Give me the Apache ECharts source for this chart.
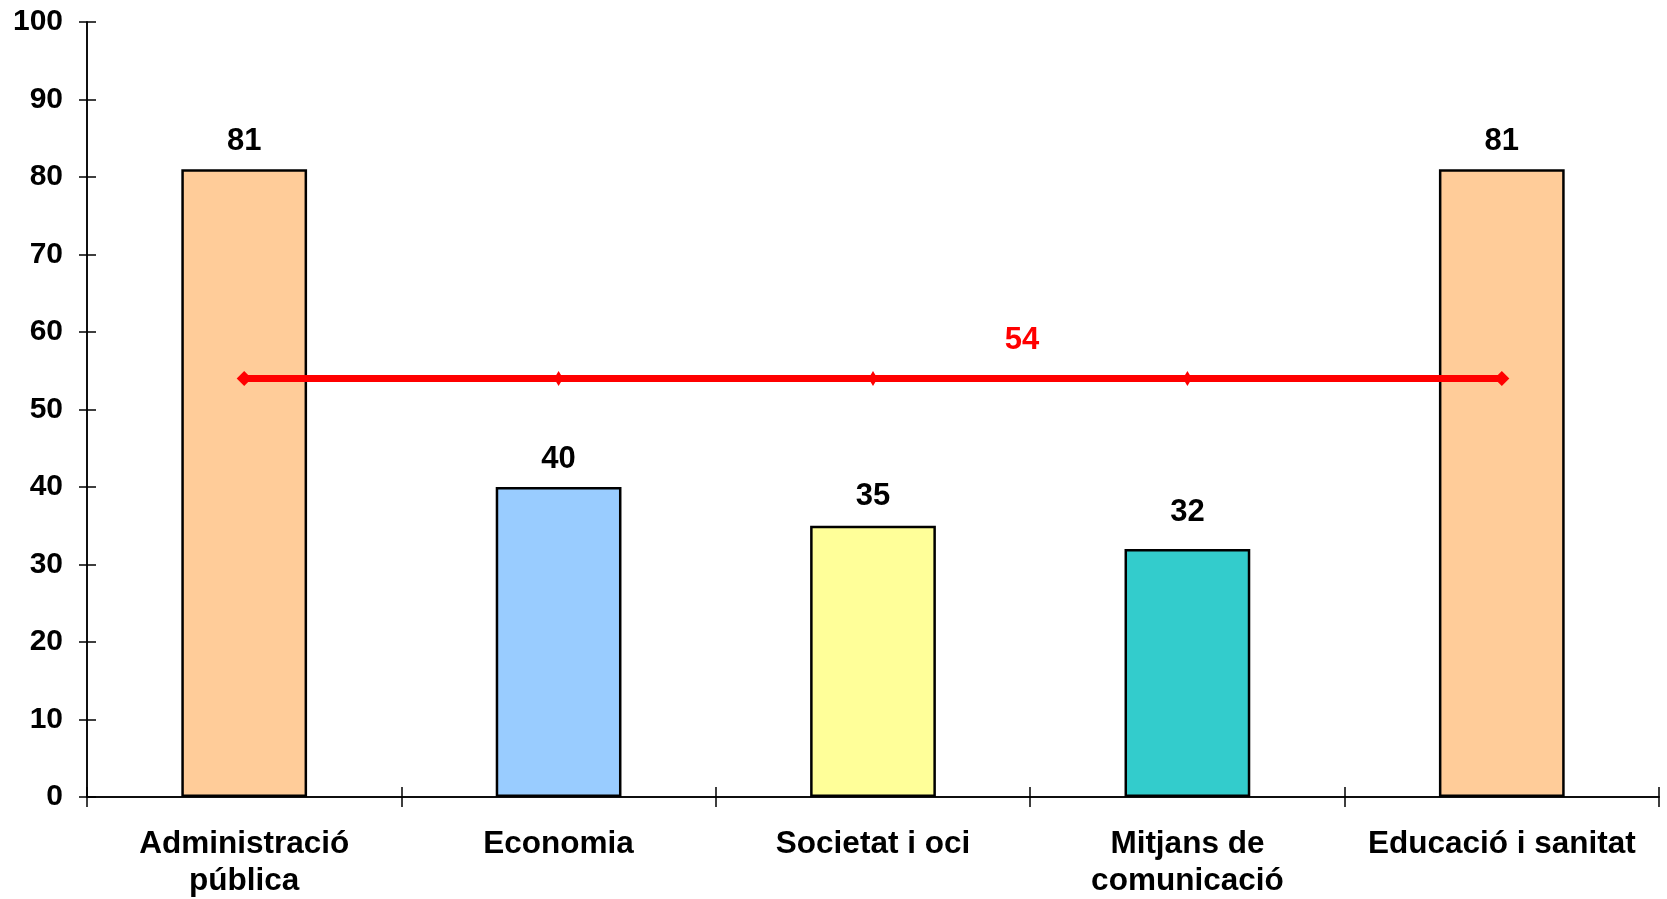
<!DOCTYPE html>
<html><head><meta charset="utf-8">
<script src="https://cdn.jsdelivr.net/npm/echarts@6/dist/echarts.min.js"></script>
<style>html,body{margin:0;padding:0;background:#fff}#c{width:1667px;height:899px}</style>
</head><body><div id="c"></div>
<script>
const categories = ['Administració\npública', 'Economia', 'Societat i oci', 'Mitjans de\ncomunicació', 'Educació i sanitat'];
const values = [81, 40, 35, 32, 81];
const barColors = ['#FFCC99', '#99CCFF', '#FFFF99', '#33CCCC', '#FFCC99'];
const averageValues = [54, 54, 54, 54, 54];
const yTicks = { min: 0, max: 100, interval: 10 };

const font = 'Liberation Sans, Arial, sans-serif';
const labelDistances = [12, 12, 14, 21, 12];
const chart = echarts.init(document.getElementById('c'));
const grid = { left: 87, right: 8, top: 22, bottom: 102, outerBoundsMode: 'none', containLabel: false };
const xBase = {
  type: 'category', data: categories,
  axisLine: { lineStyle: { color: '#000', width: 1.5 } },
  splitLine: { show: false }
};
const yBase = {
  type: 'value', min: yTicks.min, max: yTicks.max, interval: yTicks.interval,
  axisLine: { show: true, lineStyle: { color: '#000', width: 1.5 } },
  splitLine: { show: false }
};
chart.setOption({
  animation: false,
  grid: grid,
  xAxis: [
    Object.assign({}, xBase, {
      axisTick: { show: true, length: 10, lineStyle: { color: '#000', width: 1.5 } },
      axisLabel: { color: '#000', fontFamily: font, fontWeight: 'bold', fontSize: 31.5, lineHeight: 37, margin: 29, interval: 0 }
    }),
    Object.assign({}, xBase, {
      position: 'bottom',
      axisTick: { show: true, inside: true, length: 10, lineStyle: { color: '#000', width: 1.5 } },
      axisLabel: { show: false }
    })
  ],
  yAxis: [
    Object.assign({}, yBase, {
      axisTick: { show: true, length: 8, lineStyle: { color: '#000', width: 1.5 } },
      axisLabel: { color: '#000', fontFamily: font, fontWeight: 'bold', fontSize: 30, margin: 24 }
    }),
    Object.assign({}, yBase, {
      position: 'left',
      axisTick: { show: true, inside: true, length: 9, lineStyle: { color: '#000', width: 1.5 } },
      axisLabel: { show: false }
    })
  ],
  series: [
    {
      type: 'bar', xAxisIndex: 0, yAxisIndex: 0,
      barWidth: '40%',
      data: values.map((v, i) => ({ value: v, itemStyle: { color: barColors[i] }, label: { distance: labelDistances[i] } })),
      itemStyle: { borderColor: '#000', borderWidth: 2.5 },
      label: { show: true, position: 'top', color: '#000', fontFamily: font, fontWeight: 'bold', fontSize: 31 }
    },
    {
      type: 'line', xAxisIndex: 0, yAxisIndex: 0,
      data: averageValues.map((v, i) => ({
        value: v,
        symbolSize: (i === 0 || i === averageValues.length - 1) ? [15, 15] : [9, 15],
        label: i === 2 ? { show: true, position: 'top', offset: [149, -10], color: '#FF0000', fontFamily: font, fontWeight: 'bold', fontSize: 31 } : { show: false }
      })),
      symbol: 'diamond',
      lineStyle: { color: '#FF0000', width: 7 },
      itemStyle: { color: '#FF0000' },
      z: 5
    }
  ]
});
</script></body></html>
